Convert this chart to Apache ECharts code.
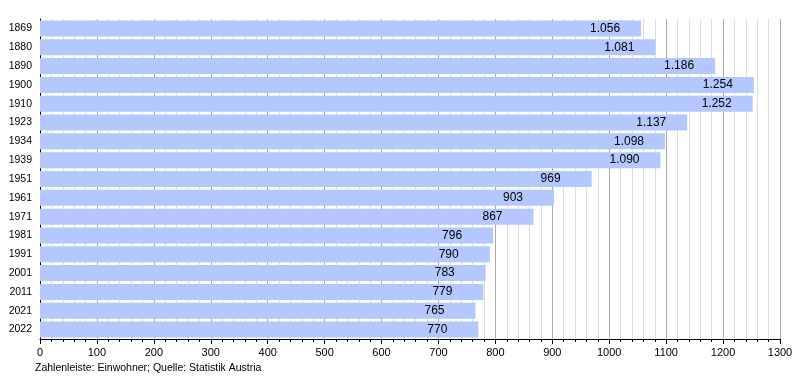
<!DOCTYPE html>
<html><head><meta charset="utf-8">
<script src="https://cdn.jsdelivr.net/npm/echarts@6/dist/echarts.min.js"></script>
<style>html,body{margin:0;padding:0;background:#fff}#c{width:800px;height:380px}</style>
</head><body><div id="c"></div>
<script>
var years = ['1869','1880','1890','1900','1910','1923','1934','1939','1951','1961','1971','1981','1991','2001','2011','2021','2022'];
var population = [1056,1081,1186,1254,1252,1137,1098,1090,969,903,867,796,790,783,779,765,770];
var footer = 'Zahlenleiste: Einwohner; Quelle: Statistik Austria';

var chart = echarts.init(document.getElementById('c'), null, {renderer:'canvas'});
function fmt(v){ var s=String(v); return s.length>3 ? s.slice(0,s.length-3)+'.'+s.slice(-3) : s; }
chart.setOption({
  animation:false,
  textStyle:{fontFamily:'Liberation Sans, Arial, sans-serif'},
  grid:{left:40,right:20,top:19,bottom:41,containLabel:false},
  graphic:[{type:'text',left:35,top:363,style:{text:footer,fontSize:10.5,fill:'#000',fontFamily:'Liberation Sans, Arial, sans-serif'}}],
  xAxis:{type:'value',min:0,max:1300,interval:100,
    axisLine:{show:true,lineStyle:{color:'#000',width:1}},
    axisTick:{show:true,length:5,lineStyle:{color:'#000'}},
    minorTick:{show:true,splitNumber:5,length:3,lineStyle:{color:'#000'}},
    splitLine:{show:true,lineStyle:{color:'#aaaaaa',width:1}},
    minorSplitLine:{show:true,lineStyle:{color:'#dddddd',width:1}},
    axisLabel:{color:'#000',fontSize:11,margin:8,formatter:function(v){return String(v);}}},
  yAxis:{type:'category',data:years,inverse:true,
    axisLine:{show:true,lineStyle:{color:'#000',width:1}},
    axisTick:{show:false},
    axisLabel:{color:'#000',fontSize:10.5,margin:8}},
  series:[{type:'bar',data:population,barCategoryGap:'15%',
    itemStyle:{color:'#b4c7fe'},
    label:{show:true,position:['100%','50%'],offset:[-51,0],align:'left',verticalAlign:'middle',
      color:'#000',fontSize:12,formatter:function(p){return fmt(p.value);}}}]
});
</script></body></html>
